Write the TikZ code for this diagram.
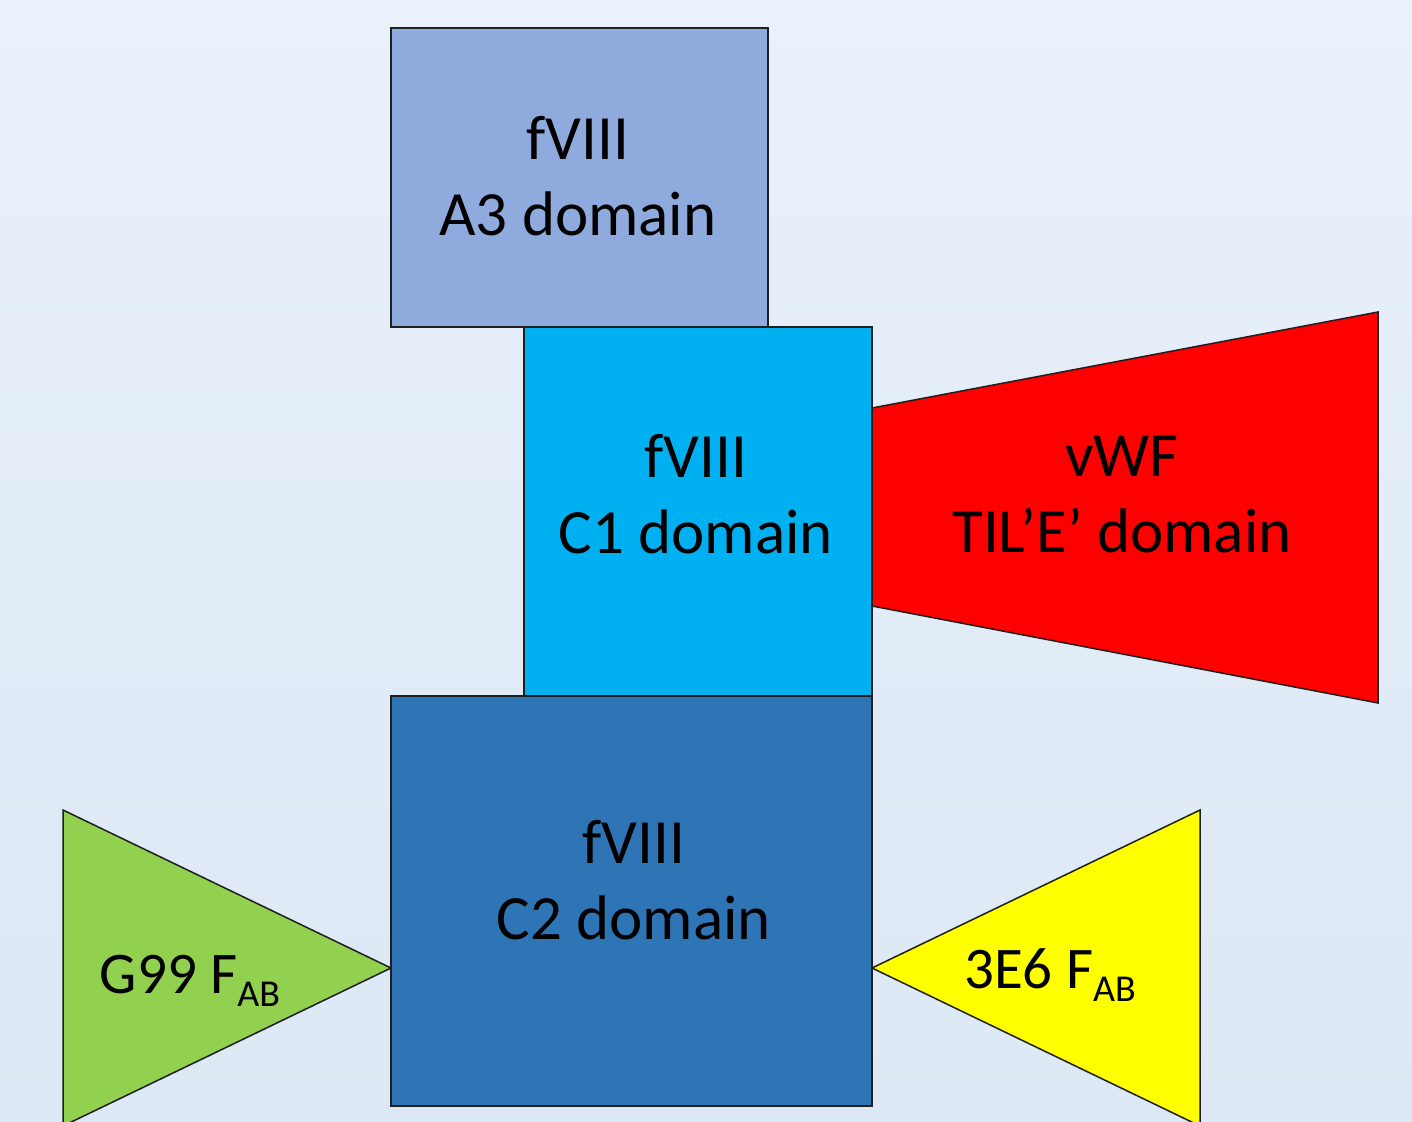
\documentclass[tikz,border=0pt]{standalone}
\usepackage{fontspec}
\setmainfont{Carlito}
\definecolor{bgtop}{RGB}{233,241,250}
\definecolor{bgbot}{RGB}{220,232,245}
\definecolor{a3blue}{RGB}{143,170,220}
\definecolor{c1blue}{RGB}{0,176,240}
\definecolor{c2blue}{RGB}{46,117,182}
\definecolor{fabgreen}{RGB}{146,208,80}
\definecolor{fabyellow}{RGB}{255,255,0}
\tikzset{domainbox/.style={draw=black!88,line width=0.75pt,line join=miter}}
\tikzset{lbl/.style={inner sep=0pt,align=center,font=\fontsize{31.5}{38}\selectfont}}
\tikzset{fablbl/.style={inner sep=0pt,font=\fontsize{29.5}{36}\selectfont}}
\newcommand{\fabsub}{{\fontsize{19}{19}\selectfont\raisebox{-6.5pt}{AB}}}

\begin{document}
\begin{tikzpicture}[x=0.5pt,y=-0.5pt]
        \useasboundingbox (0,0) rectangle (1412,1122);
        \shade[top color=bgtop,bottom color=bgbot] (0,0) rectangle (1412,1122);
        \clip (0,0) rectangle (1412,1122);

        % fVIII domains
        \draw[domainbox,fill=a3blue] (391,28) rectangle (768,327);
        \draw[domainbox,fill=c1blue] (524,327) rectangle (872,696);
        \draw[domainbox,fill=c2blue] (391,696) rectangle (872,1106);

        % vWF and the two Fab fragments
        \coordinate (vwfTL) at (872,408);
        \coordinate (vwfBL) at (872,606);
        \coordinate (vwfTR) at (1378,312);
        \coordinate (vwfBR) at (1378,703);
        \draw[domainbox,fill=red] (vwfTL) -- (vwfTR) -- (vwfBR) -- (vwfBL) -- cycle;

        \coordinate (gTop) at (63,810);
        \coordinate (gTip) at (391,968);
        \coordinate (gBot) at (63,1126);
        \draw[domainbox,fill=fabgreen] (gTop) -- (gTip) -- (gBot) -- cycle;

        \coordinate (eTop) at (1200,810);
        \coordinate (eTip) at (872,968);
        \coordinate (eBot) at (1200,1126);
        \draw[domainbox,fill=fabyellow] (eTop) -- (eTip) -- (eBot) -- cycle;

        \node[lbl] (a3lbl) at (578,176.5) {fVIII\\A3 domain};
        \node[lbl] (c1lbl) at (696,494.5) {fVIII\\C1 domain};
        \node[lbl] (c2lbl) at (634,880) {fVIII\\C2 domain};
        \node[lbl] (vwflbl) at (1122,495) {vWF\\TIL’E’ domain};
        \node[fablbl] (g99lbl) at (190,981) {G99 F\fabsub};
        \node[fablbl] (e36lbl) at (1050,975) {3E6 F\fabsub};
    \end{tikzpicture}
\end{document}
